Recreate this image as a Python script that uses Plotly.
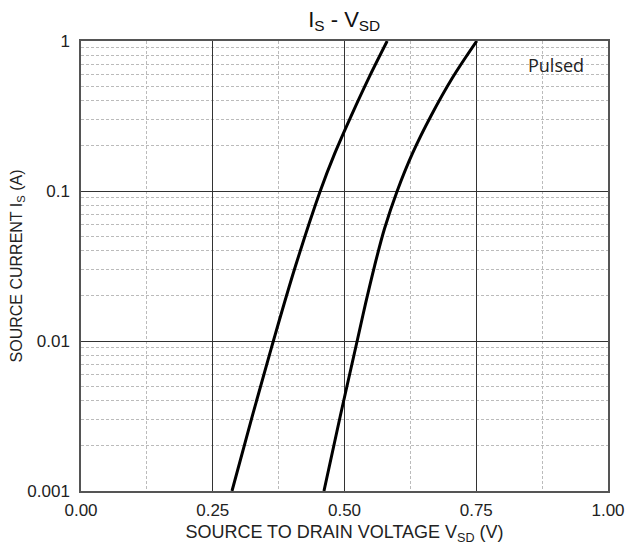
import plotly.graph_objects as go

# Source current vs source-to-drain voltage, two pulsed curves
vsd_a = [0.2865, 0.325, 0.365, 0.407, 0.454, 0.4815, 0.5125, 0.5455, 0.581]
is_a = [0.001, 0.00316, 0.01, 0.0316, 0.1, 0.178, 0.316, 0.562, 1.0]

vsd_b = [0.461, 0.492, 0.524, 0.540, 0.557, 0.576, 0.600, 0.629, 0.664, 0.704, 0.751]
is_b = [0.001, 0.00316, 0.01, 0.0178, 0.0316, 0.0562, 0.1, 0.178, 0.316, 0.562, 1.0]

x_ticks = [0.0, 0.25, 0.5, 0.75, 1.0]
y_ticks = [0.001, 0.01, 0.1, 1]
y_tick_text = ["0.001", "0.01", "0.1", "1"]

font = "Liberation Sans, Arial, sans-serif"

fig = go.Figure()
for vx, iy in ((vsd_a, is_a), (vsd_b, is_b)):
    fig.add_trace(go.Scatter(
        x=vx, y=iy, mode="lines",
        line=dict(color="black", width=3, shape="spline", smoothing=1.0),
        showlegend=False, hoverinfo="skip",
    ))

fig.update_layout(
    width=627, height=545,
    margin=dict(l=81, r=19, t=41, b=54),
    paper_bgcolor="white", plot_bgcolor="white",
    font=dict(family=font, size=17, color="#222"),
    title=dict(
        text="I<sub>S</sub> - V<sub>SD</sub>",
        x=0.549, xanchor="center", y=0.965, yanchor="middle",
        font=dict(family=font, size=22, color="#111"),
    ),
    annotations=[dict(
        text="Pulsed", x=0.958, y=(491 - 65) / 450, xref="paper", yref="paper",
        xanchor="right", yanchor="middle", showarrow=False,
        font=dict(family="Open Sans, sans-serif", size=18, color="#222"),
    )],
)

fig.update_xaxes(
    range=[0, 1], tickvals=x_ticks, tickformat=".2f",
    showgrid=True, gridcolor="#333", gridwidth=1.3,
    showline=True, linecolor="#555", linewidth=1.5, mirror=True,
    ticks="outside", ticklen=3, tickcolor="rgba(0,0,0,0)",
    zeroline=False, automargin=False,
    tickfont=dict(size=17),
    minor=dict(dtick=0.125, showgrid=True, gridcolor="#bbb", gridwidth=1, griddash="3px,2px"),
    title=dict(text="SOURCE TO DRAIN VOLTAGE V<sub>SD</sub> (V)", standoff=6,
               font=dict(family=font, size=18, color="#222")),
)
fig.update_yaxes(
    type="log", range=[-3, 0], tickvals=y_ticks, ticktext=y_tick_text,
    showgrid=True, gridcolor="#333", gridwidth=1.3,
    showline=True, linecolor="#555", linewidth=1.5, mirror=True,
    ticks="outside", ticklen=6, tickcolor="rgba(0,0,0,0)",
    zeroline=False, automargin=False,
    tickfont=dict(size=17),
    minor=dict(dtick="D1", showgrid=True, gridcolor="#bbb", gridwidth=1, griddash="3px,2px"),
    title=dict(text="SOURCE CURRENT I<sub>S</sub> (A)", standoff=1,
               font=dict(family=font, size=16, color="#222")),
)

fig.write_html("out.html")
